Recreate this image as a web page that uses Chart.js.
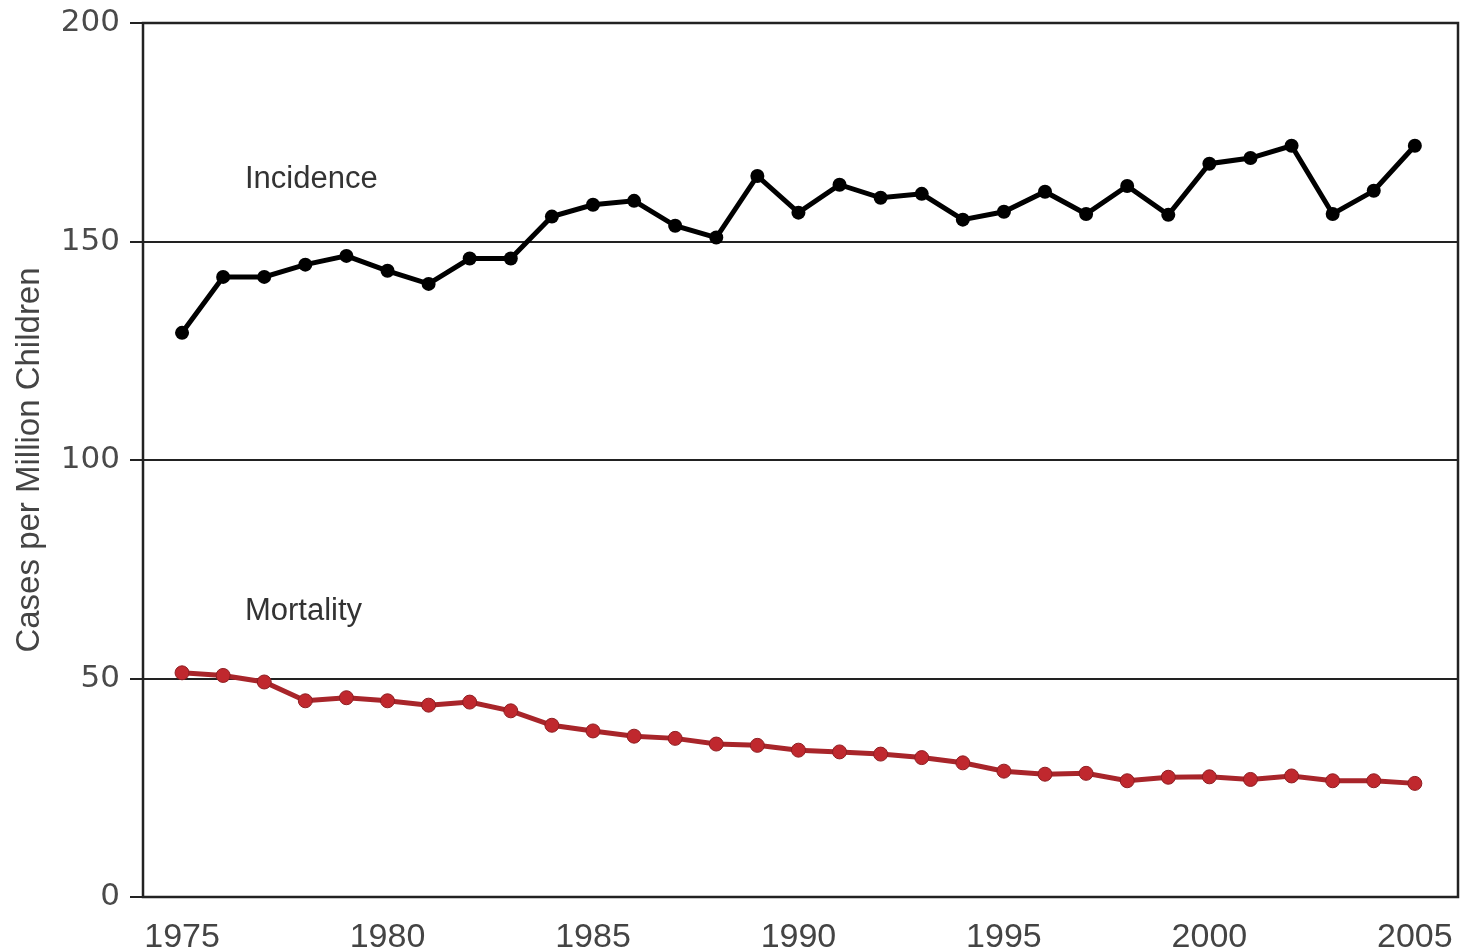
<!DOCTYPE html>
<html>
<head>
<meta charset="utf-8">
<script src="https://cdn.jsdelivr.net/npm/chart.js@4"></script>
<style>
  html, body { margin: 0; padding: 0; background: #fff; }
  #wrap { width: 1466px; height: 950px; }
</style>
</head>
<body>
<div id="wrap"><canvas id="grafico"></canvas></div>
<script>
// dados
const anos = [1975, 1976, 1977, 1978, 1979, 1980, 1981, 1982, 1983, 1984,
  1985, 1986, 1987, 1988, 1989, 1990, 1991, 1992, 1993, 1994,
  1995, 1996, 1997, 1998, 1999, 2000, 2001, 2002, 2003, 2004, 2005];
const incidencia = [129.1, 141.9, 141.9, 144.7, 146.7, 143.3, 140.3, 146.1, 146.1, 155.7,
  158.4, 159.3, 153.6, 150.9, 165.0, 156.6, 163.0, 160.0, 160.9, 155.0,
  156.8, 161.4, 156.3, 162.7, 156.1, 167.8, 169.1, 171.9, 156.3, 161.6, 171.9];
const mortalidade = [51.3, 50.7, 49.2, 44.9, 45.6, 44.9, 43.9, 44.6, 42.6, 39.3,
  38.0, 36.8, 36.3, 35.0, 34.7, 33.6, 33.2, 32.7, 31.9, 30.7,
  28.8, 28.1, 28.3, 26.6, 27.4, 27.5, 26.9, 27.7, 26.6, 26.6, 26.0];
const ticksX = [1975, 1980, 1985, 1990, 1995, 2000, 2005];
const ticksY = [0, 50, 100, 150, 200];
const rotulos = [
  { texto: 'Incidence', x: 1976.53, y: 164.3 },
  { texto: 'Mortality', x: 1976.53, y: 65.4 }
];

const pontos = (vals) => anos.map((a, i) => ({ x: a, y: vals[i] }));

// moldura em volta da área do gráfico + rótulos das séries
const moldura = {
  id: 'moldura',
  afterDraw(chart) {
    const { ctx, chartArea: a, scales } = chart;
    ctx.save();
    ctx.strokeStyle = '#222';
    ctx.lineWidth = 2.5;
    ctx.strokeRect(a.left, a.top, a.right - a.left, a.bottom - a.top);
    ctx.fillStyle = '#333';
    ctx.font = '31px "Liberation Sans", Arial, sans-serif';
    ctx.textAlign = 'left';
    ctx.textBaseline = 'middle';
    rotulos.forEach(r => {
      ctx.fillText(r.texto, scales.x.getPixelForValue(r.x), scales.y.getPixelForValue(r.y));
    });
    ctx.restore();
  }
};

new Chart(document.getElementById('grafico'), {
  type: 'line',
  data: {
    datasets: [{
      label: 'Incidence',
      data: pontos(incidencia),
      borderColor: '#000',
      backgroundColor: '#000',
      borderWidth: 5,
      pointRadius: 7,
      pointBorderWidth: 0,
      tension: 0
    }, {
      label: 'Mortality',
      data: pontos(mortalidade),
      borderColor: '#a8252a',
      backgroundColor: '#c0282e',
      pointBorderColor: '#8e1e22',
      borderWidth: 5,
      pointRadius: 7,
      pointBorderWidth: 1,
      tension: 0
    }]
  },
  options: {
    responsive: true,
    maintainAspectRatio: false,
    animation: false,
    layout: { padding: { top: 23, right: 5, left: 0, bottom: 0 } },
    plugins: {
      legend: { display: false },
      tooltip: { enabled: false }
    },
    scales: {
      x: {
        type: 'linear',
        min: 1974.05,
        max: 2006.05,
        afterBuildTicks: (s) => { s.ticks = ticksX.map(v => ({ value: v })); },
        afterFit: (s) => { s.height = 53; },
        grid: { display: false },
        border: { display: false },
        ticks: {
          color: '#444',
          padding: 12,
          maxRotation: 0,
          font: { family: '"Liberation Sans", Arial, sans-serif', size: 34 },
          callback: (v) => String(v)
        }
      },
      y: {
        min: 0,
        max: 200,
        afterBuildTicks: (s) => { s.ticks = ticksY.map(v => ({ value: v })); },
        afterFit: (s) => { s.width = 143; s.paddingTop = 0; s.paddingBottom = 0; },
        grid: { color: '#222', lineWidth: 2, tickLength: 13, tickColor: '#222' },
        border: { display: false },
        ticks: {
          color: '#4a4a4a',
          padding: 10,
          font: { family: '"DejaVu Sans", sans-serif', size: 31 }
        },
        title: {
          display: true,
          text: 'Cases per Million Children',
          color: '#444',
          padding: { top: 10, bottom: 0 },
          font: { family: '"Liberation Sans", Arial, sans-serif', size: 33 }
        }
      }
    }
  },
  plugins: [moldura]
});
</script>
</body>
</html>
